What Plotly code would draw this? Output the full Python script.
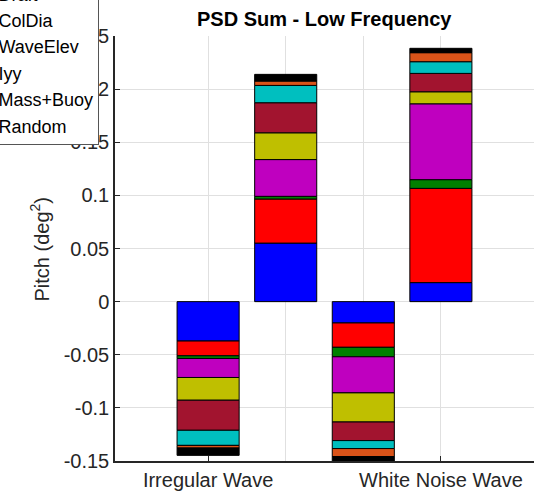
import plotly.graph_objects as go

# Categories / positions (negative stack and positive stack for each wave type)
positions = [1, 2, 3, 4]
tick_positions = [1, 4]
tick_labels = ["Irregular Wave", "White Noise Wave"]

series_names = ["Hs", "Tp", "Wind", "Draft", "ColDia", "WaveElev", "Iyy", "Mass+Buoy", "Random"]
series_colors = ["#0000FF", "#FF0000", "#008000", "#BF00BF", "#BFBF00",
                 "#A2142F", "#00BFBF", "#D95319", "#000000"]

# values at [Irregular (neg), Irregular (pos), White Noise (neg), White Noise (pos)]
hs_vals        = [-0.0371, 0.0551, -0.0201, 0.0179]
tp_vals        = [-0.0139, 0.0415, -0.0229, 0.0887]
wind_vals      = [-0.0025, 0.0025, -0.0089, 0.0082]
draft_vals     = [-0.0179, 0.0346, -0.0340, 0.0714]
coldia_vals    = [-0.0214, 0.0252, -0.0274, 0.0113]
waveelev_vals  = [-0.0283, 0.0283, -0.0175, 0.0173]
iyy_vals       = [-0.0142, 0.0163, -0.0075, 0.0110]
massbuoy_vals  = [-0.0025, 0.0041, -0.0075, 0.0085]
random_vals    = [-0.0069, 0.0063, -0.0060, 0.0041]

series_values = [hs_vals, tp_vals, wind_vals, draft_vals, coldia_vals,
                 waveelev_vals, iyy_vals, massbuoy_vals, random_vals]

y_tick_vals = [-0.15, -0.1, -0.05, 0, 0.05, 0.1, 0.15, 0.2, 0.25]
y_tick_text = ["-0.15", "-0.1", "-0.05", "0", "0.05", "0.1", "0.15", "0.2", "0.25"]

FONT = "Liberation Sans, Arial, Helvetica, sans-serif"
AX = "#262626"

fig = go.Figure()
for name, color, vals in zip(series_names, series_colors, series_values):
    fig.add_trace(go.Bar(
        x=positions, y=vals, name=name, width=0.8,
        marker=dict(color=color, line=dict(color="#000000", width=1)),
    ))

fig.update_layout(
    width=535, height=496,
    barmode="relative",
    paper_bgcolor="white", plot_bgcolor="white",
    margin=dict(l=115, r=1, t=36, b=35, autoexpand=False),
    font=dict(family=FONT, size=20, color=AX),
    showlegend=True,
    legend=dict(
        x=-0.037, xanchor="right", y=0.743, yanchor="bottom",
        traceorder="normal", bgcolor="white",
        bordercolor="#555555", borderwidth=1,
        font=dict(family=FONT, size=18, color="#000000"),
    ),
    xaxis=dict(
        range=[-0.2, 5.2],
        tickmode="array", tickvals=tick_positions, ticktext=tick_labels,
        ticks="inside", ticklen=5, tickcolor=AX, tickwidth=1,
        showgrid=True, gridcolor="#e0e0e0", gridwidth=1,
        minor=dict(tickvals=[2, 3], showgrid=True, gridcolor="#e0e0e0", ticks=""),
        showline=True, linecolor=AX, linewidth=1.5, zeroline=False,
        tickfont=dict(size=20, color=AX),
    ),
    yaxis=dict(
        range=[-0.15, 0.25],
        tickmode="array", tickvals=y_tick_vals, ticktext=y_tick_text,
        ticks="inside", ticklen=5, tickcolor=AX, tickwidth=1,
        showgrid=True, gridcolor="#e0e0e0", gridwidth=1,
        showline=True, linecolor=AX, linewidth=1.5, zeroline=False,
        tickfont=dict(size=20, color=AX),
    ),
    annotations=[
        dict(text="<b>PSD Sum - Low Frequency</b>", xref="paper", yref="paper",
             x=0.5, y=1, xanchor="center", yanchor="bottom", yshift=4,
             showarrow=False, font=dict(size=20, color="#000000", family=FONT)),
        dict(text="Pitch (deg<sup>2</sup>)", xref="paper", yref="paper",
             x=-0.179, y=0.5, xanchor="center", yanchor="middle", textangle=-90,
             showarrow=False, font=dict(size=20, color=AX, family=FONT)),
    ],
)

fig.write_html("out.html")
